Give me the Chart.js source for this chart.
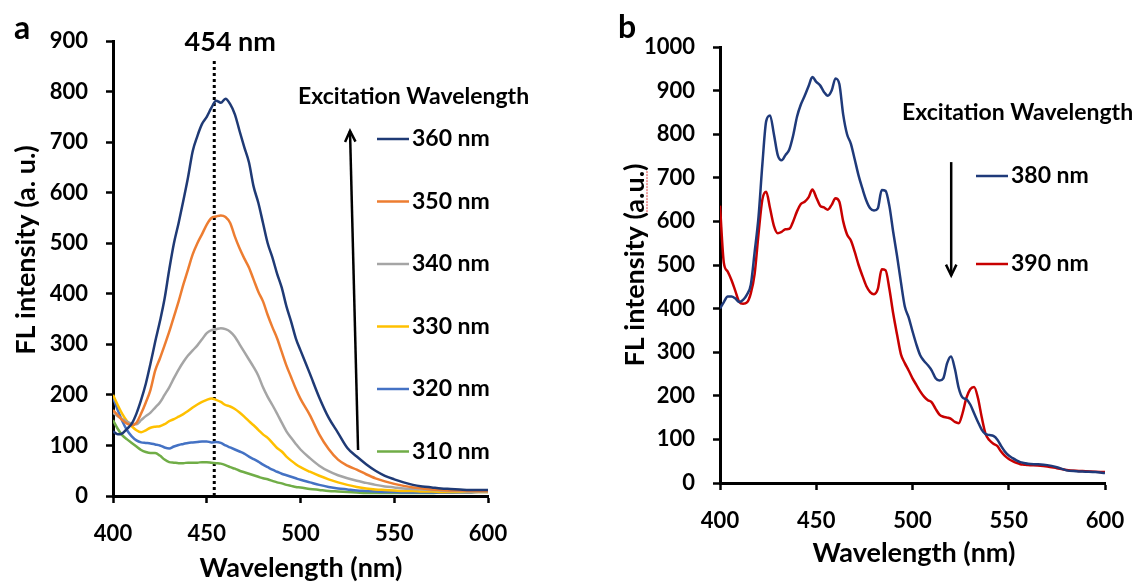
<!DOCTYPE html>
<html>
<head>
<meta charset="utf-8">
<title>FL spectra</title>
<script src="https://cdn.jsdelivr.net/npm/chart.js@4.4.1/dist/chart.umd.min.js"></script>
<style>
  html, body { margin: 0; padding: 0; background: #fff; }
  #wrap { position: relative; width: 1148px; height: 586px; }
  canvas { position: absolute; top: 0; }
  #chartA { left: 0; }
  #chartB { left: 574px; }
</style>
</head>
<body>
<div id="wrap">
  <canvas id="chartA" width="574" height="586"></canvas>
  <canvas id="chartB" width="574" height="586"></canvas>
</div>
<script>
// ---- panel a: emission at six excitation wavelengths ----
const wavelengthA = [400, 402.5, 405, 407.5, 410, 412.5, 415, 417.5, 420, 422.5, 425, 427.5, 430, 432.5, 435, 437.5,
  440, 442.5, 445, 447.5, 450, 452.5, 455, 457.5, 460, 462.5, 465, 467.5, 470, 472.5, 475, 477.5, 480, 482.5,
  485, 487.5, 490, 492.5, 495, 497.5, 500, 505, 510, 515, 520, 525, 530, 535, 540, 545, 550, 555, 560, 565,
  570, 575, 580, 585, 590, 595, 600];

const ex360 = [128, 122, 124, 133, 143, 163, 190, 222, 262, 305, 345, 390, 448, 500, 540, 584, 630, 682, 712, 736,
  750, 768, 782, 778, 786, 775, 755, 722, 690, 660, 612, 580, 540, 500, 472, 440, 412, 375, 345, 312, 288,
  242, 195, 155, 125, 95, 78, 63, 50, 40, 33, 27, 22, 19, 17, 15, 14, 13, 12, 12, 12];
const ex350 = [170, 160, 150, 143, 140, 145, 163, 185, 210, 248, 272, 298, 325, 355, 385, 418, 448, 478, 500, 518,
  537, 550, 553, 555, 552, 540, 513, 490, 470, 452, 428, 404, 385, 358, 334, 312, 285, 258, 235, 212, 192,
  160, 122, 93, 72, 60, 52, 43, 35, 29, 24, 20, 17, 15, 13, 12, 11, 11, 10, 10, 10];
const ex340 = [165, 158, 152, 147, 143, 142, 150, 158, 165, 175, 185, 200, 215, 233, 250, 265, 278, 288, 298, 310,
  322, 328, 330, 332, 330, 325, 315, 300, 285, 270, 255, 238, 215, 196, 180, 163, 145, 128, 115, 103, 92,
  75, 60, 49, 41, 35, 30, 26, 22, 19, 17, 15, 14, 13, 12, 11, 10, 10, 9, 9, 9];
const ex330 = [200, 180, 162, 148, 138, 130, 126, 130, 135, 137, 138, 142, 148, 152, 157, 162, 168, 175, 181, 186,
  190, 193, 190, 186, 180, 177, 172, 165, 157, 148, 140, 131, 122, 115, 105, 95, 88, 78, 70, 63, 57,
  48, 40, 33, 27, 22, 18, 15, 13, 12, 11, 10, 10, 9, 9, 8, 8, 8, 8, 8, 8];
const ex320 = [195, 170, 148, 130, 118, 110, 106, 105, 104, 102, 100, 96, 94, 98, 101, 103, 105, 106, 107, 108,
  108, 106, 107, 105, 100, 96, 92, 88, 84, 78, 73, 68, 62, 57, 52, 48, 44, 41, 38, 35, 32,
  27, 22, 18, 15, 13, 11, 10, 9, 8, 8, 7, 7, 7, 7, 7, 7, 7, 7, 8, 8];
const ex310 = [150, 133, 120, 112, 105, 98, 91, 87, 85, 85, 80, 72, 67, 66, 65, 65, 66, 66, 66, 67,
  67, 66, 65, 64, 61, 57, 54, 50, 47, 44, 41, 38, 35, 33, 30, 27, 25, 22, 20, 18, 17,
  14, 12, 10, 9, 8, 7, 6, 6, 6, 6, 6, 6, 6, 6, 7, 7, 8, 8, 9, 10];

const labelsA = ['360 nm', '350 nm', '340 nm', '330 nm', '320 nm', '310 nm'];
const colorsA = ['#1F3A75', '#ED7D31', '#A5A5A5', '#FFC000', '#4472C4', '#70AD47'];

// emission maximum marker
const peakX = [454, 454];
const peakY = [0, 865];

// ---- panel b: emission at 380 and 390 nm excitation ----
const wavelengthB = [400, 402, 404, 406, 408, 410, 412, 414, 416, 418, 420, 422, 424, 426, 428, 430, 432, 434, 436, 438,
  440, 442, 444, 446, 448, 450, 452, 454, 456, 458, 460, 462, 464, 466, 468, 470, 472, 474, 476, 478,
  480, 482, 484, 486, 488, 490, 492, 494, 496, 498, 500, 502, 504, 506, 508, 510, 512, 514, 516, 518,
  520, 522, 524, 526, 528, 530, 532, 534, 536, 538, 540, 542, 544, 546, 548, 550, 552, 554, 556, 558,
  560, 565, 570, 575, 580, 585, 590, 595, 600];

const ex380 = [400, 415, 428, 428, 423, 415, 420, 432, 455, 530, 610, 730, 830, 843, 800, 752, 740, 752, 765, 797,
  840, 868, 888, 910, 931, 920, 912, 897, 888, 900, 928, 915, 845, 800, 778, 742, 705, 675, 648, 630,
  625, 630, 672, 670, 635, 575, 520, 460, 405, 380, 348, 318, 293, 280, 270, 258, 240, 235, 240, 275,
  290, 262, 218, 196, 192, 180, 160, 140, 122, 112, 110, 108, 100, 85, 72, 63, 57, 52, 48, 46,
  44, 43, 41, 36, 29, 27, 26, 25, 23];
const ex390 = [636, 505, 485, 465, 440, 415, 411, 414, 435, 480, 571, 650, 668, 630, 590, 573, 576, 582, 583, 600,
  623, 640, 645, 655, 673, 655, 636, 632, 627, 638, 653, 645, 600, 570, 556, 530, 500, 475, 452, 438,
  433, 445, 490, 488, 445, 388, 340, 295, 275, 258, 240, 225, 210, 198, 190, 185, 170, 157, 152, 150,
  147, 140, 137, 160, 195, 215, 220, 195, 150, 112, 98, 90, 85, 72, 62, 55, 50, 46, 43, 42,
  41, 40, 38, 34, 30, 28, 27, 26, 25];

const labelsB = ['380 nm', '390 nm'];
const colorsB = ['#1F3A7A', '#C80000'];

const FONT = 'Lato';

function toPoints(xs, ys) {
  return xs.map((x, i) => ({ x: x, y: ys[i] }));
}

// text, legend, arrow and panel letter drawn on top of each panel
const panelDecor = {
  id: 'panelDecor',
  afterDraw(chart, args, o) {
    const ctx = chart.ctx;
    const xs = chart.scales.x, ys = chart.scales.y;
    ctx.save();
    ctx.fillStyle = '#000';
    ctx.strokeStyle = '#000';

    ctx.font = 'bold 32px ' + FONT;
    ctx.textAlign = 'left';
    ctx.textBaseline = 'alphabetic';
    ctx.fillText(o.letter, o.letterAt[0], o.letterAt[1]);

    // axis titles
    ctx.font = 'bold 27px ' + FONT;
    ctx.textAlign = 'center';
    ctx.textBaseline = 'middle';
    ctx.fillText(o.xTitle, o.xTitleAt[0], o.xTitleAt[1]);
    ctx.save();
    ctx.translate(o.yTitleAt[0], o.yTitleAt[1]);
    ctx.rotate(-Math.PI / 2);
    ctx.fillText(o.yTitle, 0, 0);
    if (o.squiggle) {
      const full = ctx.measureText(o.yTitle).width;
      const start = -full / 2 + ctx.measureText(o.yTitle.slice(0, o.yTitle.indexOf(o.squiggle))).width;
      const w = ctx.measureText(o.squiggle).width;
      ctx.strokeStyle = '#E03C3C';
      ctx.lineWidth = 1;
      ctx.setLineDash([2, 1]);
      ctx.beginPath();
      ctx.moveTo(start, 12);
      ctx.lineTo(start + w, 12);
      ctx.stroke();
    }
    ctx.restore();

    // legend
    ctx.font = 'bold 23px ' + FONT;
    ctx.textAlign = 'left';
    ctx.fillText(o.heading, o.headingAt[0], o.headingAt[1]);
    const entries = chart.data.datasets.filter(d => !d.marker);
    entries.forEach((d, i) => {
      const y = o.legend.y + i * o.legend.gap;
      ctx.strokeStyle = d.borderColor;
      ctx.lineWidth = 2.5;
      ctx.beginPath();
      ctx.moveTo(o.legend.x, y);
      ctx.lineTo(o.legend.x + o.legend.len, y);
      ctx.stroke();
      ctx.fillStyle = '#000';
      ctx.fillText(d.label, o.legend.x + o.legend.len + 3, y);
    });

    // annotation above the marker line
    if (o.note) {
      const mx = xs.getPixelForValue(peakX[0]);
      ctx.font = 'bold 27px ' + FONT;
      ctx.textAlign = 'center';
      ctx.fillText(o.note.text, mx + o.note.dx, o.note.y);
    }

    // trend arrow
    const x0 = xs.getPixelForValue(o.arrow.from[0]), y0 = ys.getPixelForValue(o.arrow.from[1]);
    const x1 = xs.getPixelForValue(o.arrow.to[0]), y1 = ys.getPixelForValue(o.arrow.to[1]);
    const ang = Math.atan2(y1 - y0, x1 - x0);
    ctx.strokeStyle = '#000';
    ctx.lineWidth = 2.5;
    ctx.setLineDash([]);
    ctx.beginPath();
    ctx.moveTo(x0, y0);
    ctx.lineTo(x1, y1);
    ctx.stroke();
    ctx.beginPath();
    ctx.moveTo(x1 - 12 * Math.cos(ang - 0.45), y1 - 12 * Math.sin(ang - 0.45));
    ctx.lineTo(x1, y1);
    ctx.lineTo(x1 - 12 * Math.cos(ang + 0.45), y1 - 12 * Math.sin(ang + 0.45));
    ctx.stroke();
    ctx.restore();
  }
};

function axisOpts(min, max, step, afterFit) {
  return {
    type: 'linear',
    min: min,
    max: max,
    afterFit: afterFit,
    ticks: {
      stepSize: step,
      autoSkip: false,
      maxRotation: 0,
      color: '#000',
      font: { family: FONT, size: 22, weight: 'bold' },
      callback: v => String(v)
    },
    grid: { drawOnChartArea: false, drawTicks: true, tickLength: 7, tickWidth: 2.5, tickColor: '#000' },
    border: { display: true, color: '#000', width: 3 }
  };
}

function spectrumChart(id, xValues, series, labels, colors, yMax, pad, yWidth, xHeight, decor, extra) {
  const datasets = series.map((s, i) => ({
    label: labels[i],
    data: toPoints(xValues, s),
    borderColor: colors[i],
    borderWidth: 2.5,
    pointRadius: 0,
    cubicInterpolationMode: 'monotone',
    fill: false
  }));
  (extra || []).forEach(d => datasets.push(d));

  const x = axisOpts(400, 600, 50, s => { s.height = xHeight; });
  x.ticks.padding = 18;
  const y = axisOpts(0, yMax, 100, s => { s.width = yWidth; });
  y.ticks.padding = 18;

  return new Chart(document.getElementById(id), {
    type: 'line',
    data: { datasets: datasets },
    plugins: [panelDecor],
    options: {
      responsive: false,
      animation: false,
      events: [],
      layout: { padding: pad },
      scales: { x: x, y: y },
      plugins: {
        legend: { display: false },
        tooltip: { enabled: false },
        panelDecor: decor
      }
    }
  });
}

spectrumChart('chartA', wavelengthA, [ex360, ex350, ex340, ex330, ex320, ex310], labelsA, colorsA, 900,
  { left: 0, right: 86, top: 41, bottom: 0 }, 113, 90,
  {
    letter: 'a', letterAt: [14, 39],
    xTitle: 'Wavelength (nm)', xTitleAt: [301, 568],
    yTitle: 'FL intensity (a. u.)', yTitleAt: [26, 250],
    heading: 'Excitation Wavelength', headingAt: [298, 97],
    legend: { x: 377, len: 32, y: 139, gap: 62.5 },
    note: { text: '454 nm', dx: 16, y: 42 },
    arrow: { from: [530.7, 91], to: [526.4, 722] }
  },
  [{
    label: '',
    marker: true,
    data: toPoints(peakX, peakY),
    borderColor: '#000',
    borderWidth: 3,
    borderDash: [3, 3],
    pointRadius: 0
  }]);

spectrumChart('chartB', wavelengthB, [ex380, ex390], labelsB, colorsB, 1000,
  { left: 0, right: 43, top: 47, bottom: 0 }, 146, 103,
  {
    letter: 'b', letterAt: [44, 38],
    xTitle: 'Wavelength (nm)', xTitleAt: [340, 553],
    yTitle: 'FL intensity (a.u.)', yTitleAt: [61, 265], squiggle: 'a.u.',
    heading: 'Excitation Wavelength', headingAt: [328, 113],
    legend: { x: 402, len: 32, y: 176, gap: 88 },
    arrow: { from: [520.1, 736], to: [520.1, 476] }
  });
</script>
</body>
</html>
